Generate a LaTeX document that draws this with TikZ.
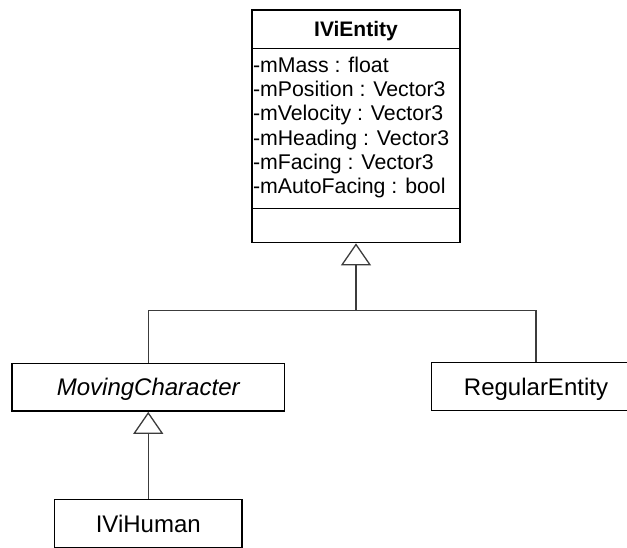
\documentclass[tikz,border=0pt]{standalone}
\usepackage{fontspec}
\setmainfont{Liberation Sans}
\usetikzlibrary{arrows.meta}
\definecolor{linkgray}{RGB}{60,60,60}
\begin{document}
\begin{tikzpicture}[x=1pt,y=-1pt,
  box/.style={draw=black, line width=1.7pt, inner sep=0pt, fill=white},
  headfont/.style={font=\bfseries\fontsize{21}{25}\selectfont, text height=15pt, text depth=0pt},
  namefont/.style={font=\fontsize{24}{28}\selectfont, text height=17.2pt, text depth=0pt},
  abstractfont/.style={font=\itshape\fontsize{24}{28}\selectfont, text height=17.2pt, text depth=0pt},
  attr/.style={anchor=base west, inner sep=0pt, font=\fontsize{21.3}{25}\selectfont},
  link/.style={draw=linkgray, line width=1.3pt},
  inherit/.style={link, -{Triangle[open, width=30pt, length=22pt]}}
]
\useasboundingbox (0,0) rectangle (627,547);

% IViEntity class: name, attributes, operations
\node[box, minimum width=208pt, minimum height=38.5pt, headfont] (entity) at (356,29.25) {IViEntity};
\node[box, minimum width=208pt, minimum height=160pt] (fields) at (356,128.5) {};
\node[box, minimum width=208pt, minimum height=34pt] (ops) at (356,225.5) {};

\node[attr] (a1) at (252.8,72.5) {-mMass : float};
\node[attr] (a2) at (252.8,96.7) {-mPosition : Vector3};
\node[attr] (a3) at (252.8,120.9) {-mVelocity : Vector3};
\node[attr] (a4) at (252.8,145.1) {-mHeading : Vector3};
\node[attr] (a5) at (252.8,169.3) {-mFacing : Vector3};
\node[attr] (a6) at (252.8,193.5) {-mAutoFacing : bool};

% subclasses
\node[box, minimum width=272.5pt, minimum height=47.5pt, abstractfont] (moving) at (148.25,387.25) {MovingCharacter};
\node[box, minimum width=209pt, minimum height=48pt, namefont] (regular) at (536,386.5) {RegularEntity};
\node[box, minimum width=187.4pt, minimum height=48pt, namefont] (human) at (148.25,523.5) {IViHuman};

% generalization connectors
\coordinate (bus) at (356,310.7);
\draw[inherit] (moving.north) |- (bus) -- (ops.south);
\draw[link] (regular.north) |- (bus);
\draw[inherit] (human.north) -- (moving.south);
\end{tikzpicture}
\end{document}
